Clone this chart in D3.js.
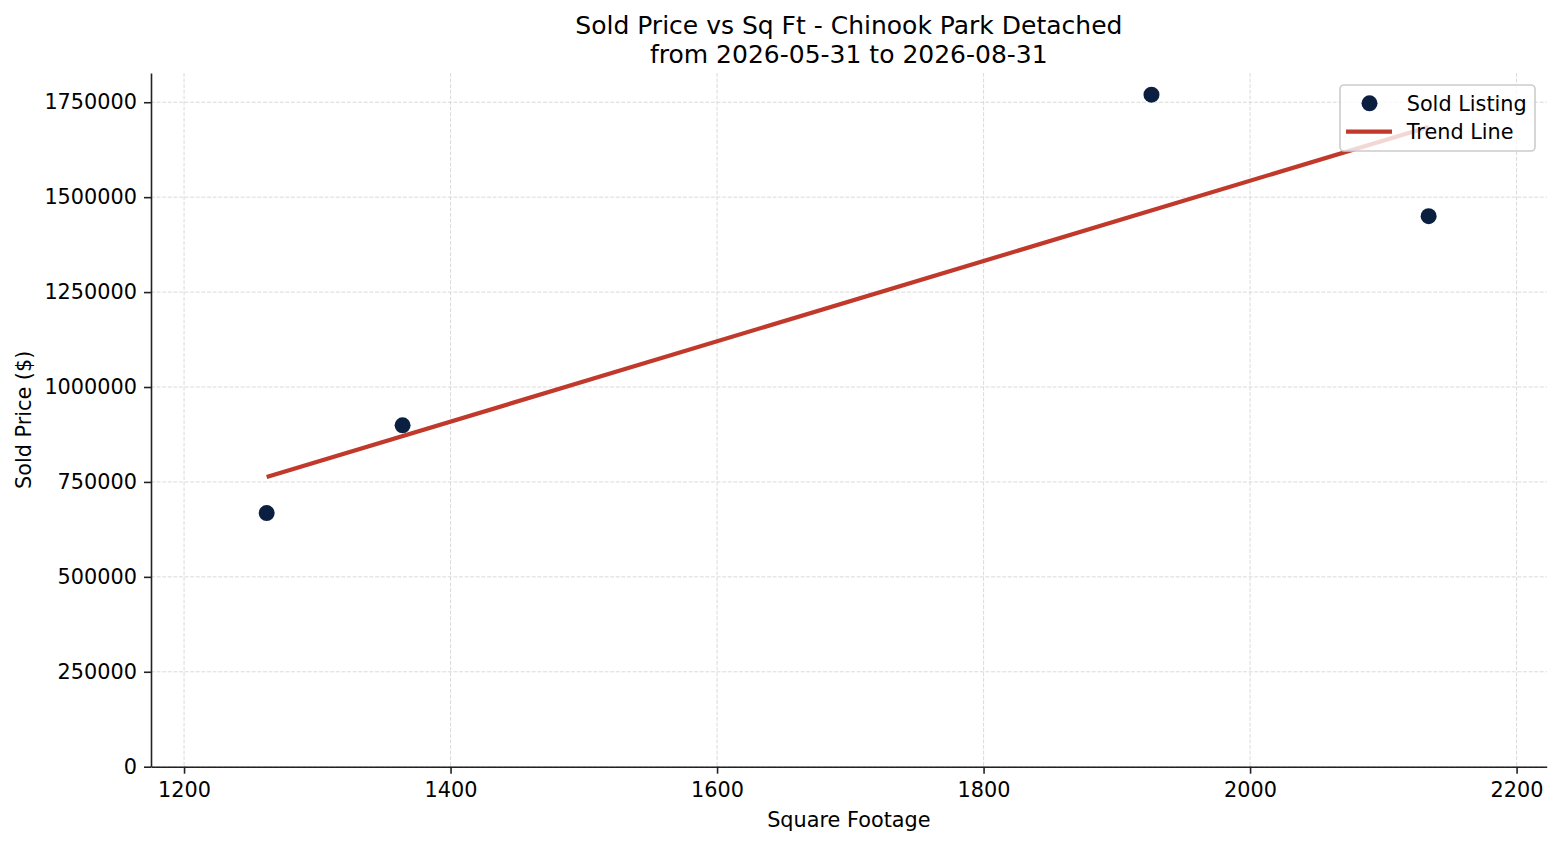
<!DOCTYPE html>
<html>
<head>
<meta charset="utf-8">
<script src="https://cdn.jsdelivr.net/npm/d3@7"></script>
<style>
body { margin: 0; background: #fff; }
text { font-family: "DejaVu Sans", sans-serif; fill: #000; }
</style>
</head>
<body>
<svg id="chart"></svg>
<script>
var width = 1560;
var height = 845;

// sold listings
var sqft = [1262, 1364, 1926, 2134];
var price = [668000, 899000, 1770000, 1450000];

// trend line end points
var trendSqft = [1262, 2134];
var trendPrice = [763000, 1685000];

var xTicks = [1200, 1400, 1600, 1800, 2000, 2200];
var yTicks = [0, 250000, 500000, 750000, 1000000, 1250000, 1500000, 1750000];

var titleLines = ["Sold Price vs Sq Ft - Chinook Park Detached", "from 2026-05-31 to 2026-08-31"];
var legendLabels = ["Sold Listing", "Trend Line"];

var plotLeft = 151, plotRight = 1546.7, plotTop = 73, plotBottom = 766.7;
var fontSize = 20.8;

var svg = d3.select("#chart")
.attr("width", width)
.attr("height", height);

var x = d3.scaleLinear()
.domain([1175.2, 2222.6])
.range([plotLeft, plotRight]);

var y = d3.scaleLinear()
.domain([0, 1827000])
.range([plotBottom, plotTop]);

// grid
svg.append("g")
.selectAll("line")
.data(xTicks)
.enter()
.append("line")
.attr("x1", function (d) { return x(d); })
.attr("x2", function (d) { return x(d); })
.attr("y1", plotTop)
.attr("y2", plotBottom)
.style("stroke", "#d6d6d6")
.style("stroke-width", 0.9)
.style("stroke-dasharray", "3.9,1.7");

svg.append("g")
.selectAll("line")
.data(yTicks)
.enter()
.append("line")
.attr("x1", plotLeft)
.attr("x2", plotRight)
.attr("y1", function (d) { return y(d); })
.attr("y2", function (d) { return y(d); })
.style("stroke", "#d6d6d6")
.style("stroke-width", 0.9)
.style("stroke-dasharray", "3.9,1.7");

// axes
var xAxis = svg.append("g")
.attr("transform", "translate(0," + plotBottom + ")")
.call(d3.axisBottom(x).tickValues(xTicks).tickFormat(d3.format("d")).tickSize(7).tickPadding(9).tickSizeOuter(0));

var yAxis = svg.append("g")
.attr("transform", "translate(" + plotLeft + ",0)")
.call(d3.axisLeft(y).tickValues(yTicks).tickFormat(d3.format("d")).tickSize(7).tickPadding(7).tickSizeOuter(0));

[xAxis, yAxis].forEach(function (ax) {
	ax.selectAll("path, line")
	.style("stroke", "#222")
	.style("stroke-width", 1.6);
	ax.selectAll("text")
	.style("font-family", "'DejaVu Sans', sans-serif")
	.style("font-size", fontSize + "px")
	.style("fill", "#000");
});

// trend line
var line = d3.line()
.x(function (d) { return x(d[0]); })
.y(function (d) { return y(d[1]); });

svg.append("path")
.datum(d3.zip(trendSqft, trendPrice))
.attr("d", line)
.style("fill", "none")
.style("stroke", "#c0392b")
.style("stroke-width", 4.2);

// points
svg.append("g")
.selectAll("circle")
.data(d3.zip(sqft, price))
.enter()
.append("circle")
.attr("cx", function (d) { return x(d[0]); })
.attr("cy", function (d) { return y(d[1]); })
.attr("r", 8)
.style("fill", "#0b2040");

// title
svg.append("g")
.selectAll("text")
.data(titleLines)
.enter()
.append("text")
.attr("x", (plotLeft + plotRight) / 2)
.attr("y", function (d, i) { return 34 + i * 29; })
.style("text-anchor", "middle")
.style("font-size", "25px")
.text(function (d) { return d; });

// axis labels
svg.append("text")
.attr("x", (plotLeft + plotRight) / 2)
.attr("y", 827)
.style("text-anchor", "middle")
.style("font-size", fontSize + "px")
.text("Square Footage");

svg.append("text")
.attr("transform", "translate(31," + ((plotTop + plotBottom) / 2) + ") rotate(-90)")
.style("text-anchor", "middle")
.style("font-size", fontSize + "px")
.text("Sold Price ($)");

// legend
var legend = svg.append("g");

legend.append("rect")
.attr("x", 1340)
.attr("y", 85)
.attr("width", 195)
.attr("height", 66)
.attr("rx", 4)
.style("fill", "#fff")
.style("fill-opacity", 0.8)
.style("stroke", "#cccccc")
.style("stroke-width", 1.6);

legend.append("circle")
.attr("cx", 1369.5)
.attr("cy", 103.3)
.attr("r", 8)
.style("fill", "#0b2040");

legend.append("line")
.attr("x1", 1346)
.attr("x2", 1392)
.attr("y1", 131.7)
.attr("y2", 131.7)
.style("stroke", "#c0392b")
.style("stroke-width", 4.2);

legend.selectAll("text.lbl")
.data(legendLabels)
.enter()
.append("text")
.attr("class", "lbl")
.attr("x", 1406.7)
.attr("y", function (d, i) { return 110.5 + i * 28.5; })
.style("font-size", fontSize + "px")
.text(function (d) { return d; });
</script>
</body>
</html>
